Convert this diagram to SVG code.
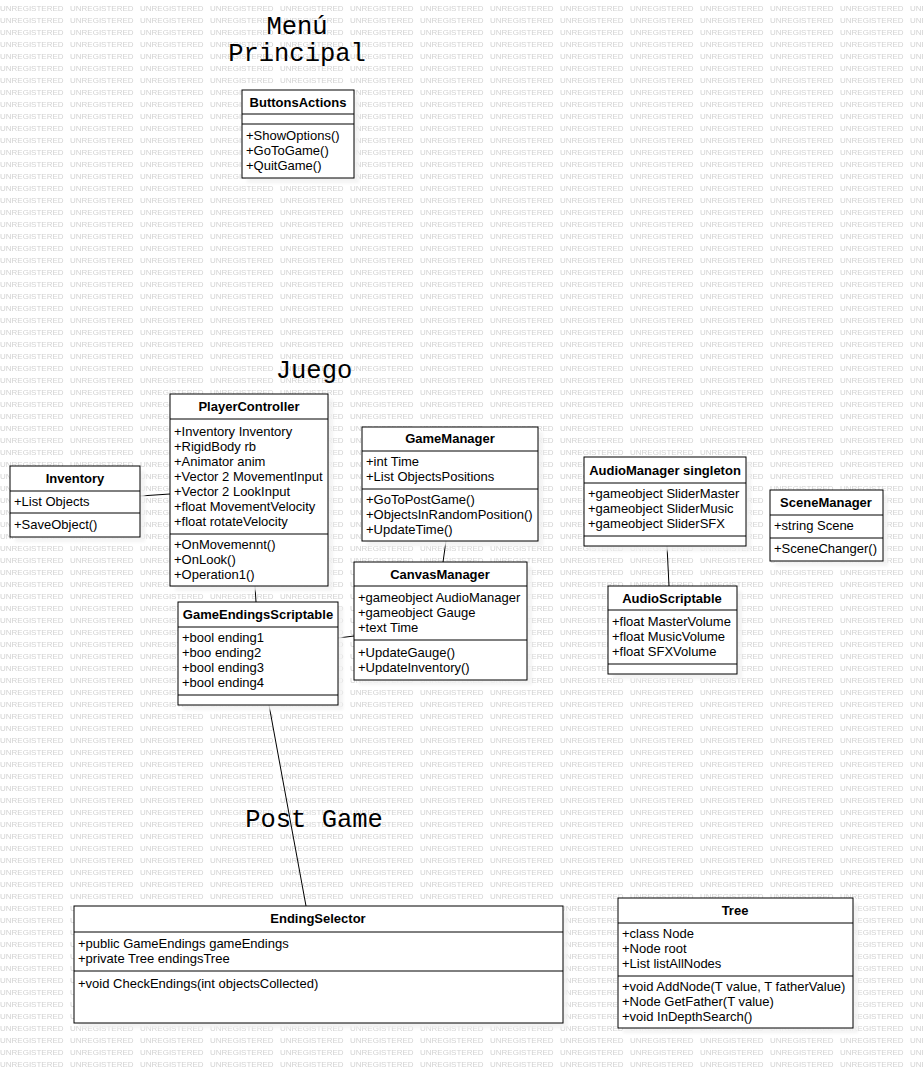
<svg xmlns="http://www.w3.org/2000/svg" width="923" height="1069" viewBox="0 0 923 1069">
<style>
.wm{font-family:"Liberation Sans",Arial,sans-serif;font-size:8px;fill:#d2d2d2}
.box{fill:#fff;stroke:#000;stroke-width:1}
.sh{fill:#f2f2f2;opacity:0.85;filter:url(#blur)}
.sep{stroke:#000;stroke-width:1}
.hd{font-family:"Liberation Sans",Arial,sans-serif;font-size:13px;font-weight:bold;fill:#000;text-anchor:middle}
.tx{font-family:"Liberation Sans",Arial,sans-serif;font-size:13px;fill:#000}
.title{font-family:"Liberation Mono","Courier New",monospace;font-size:25.5px;fill:#000;text-anchor:middle}
.conn line{stroke:#000;stroke-width:1}
</style>
<defs>
<pattern id="wmp" x="0" y="0" width="70" height="12" patternUnits="userSpaceOnUse">
<text class="wm" x="0" y="11">UNREGISTERED</text>
</pattern>
<filter id="blur" x="-10%" y="-10%" width="120%" height="120%"><feGaussianBlur stdDeviation="1.5"/></filter>
</defs>
<rect x="0" y="0" width="923" height="1069" fill="#fff"/>
<rect x="0" y="0" width="923" height="1069" fill="url(#wmp)"/>

<g id="titles">
<text class="title" x="297" y="34">Menú</text>
<text class="title" x="297" y="61">Principal</text>
<text class="title" x="314" y="378">Juego</text>
<text class="title" x="314" y="827">Post Game</text>
</g>

<g id="connectors" class="conn">
<line x1="140" y1="496" x2="170" y2="494"/>
<line x1="255" y1="586" x2="256" y2="602"/>
<line x1="446" y1="541" x2="443" y2="562"/>
<line x1="338" y1="638" x2="354" y2="636"/>
<line x1="269" y1="705" x2="306" y2="906"/>
<line x1="667" y1="546" x2="669" y2="586"/>
</g>

<g id="ButtonsActions">
<rect class="sh" x="247" y="95" width="112" height="88"/>
<rect class="box" x="242" y="90" width="112" height="88"/>
<line class="sep" x1="242" y1="114" x2="354" y2="114"/>
<line class="sep" x1="242" y1="124" x2="354" y2="124"/>
<text class="hd" x="298" y="107">ButtonsActions</text>
<text class="tx" x="246" y="140">+ShowOptions()</text>
<text class="tx" x="246" y="155">+GoToGame()</text>
<text class="tx" x="246" y="170">+QuitGame()</text>
</g>

<g id="PlayerController">
<rect class="sh" x="175" y="399" width="158" height="192"/>
<rect class="box" x="170" y="394" width="158" height="192"/>
<line class="sep" x1="170" y1="419" x2="328" y2="419"/>
<line class="sep" x1="170" y1="534" x2="328" y2="534"/>
<text class="hd" x="249" y="411">PlayerController</text>
<text class="tx" x="174" y="436">+Inventory Inventory</text>
<text class="tx" x="174" y="451">+RigidBody rb</text>
<text class="tx" x="174" y="466">+Animator anim</text>
<text class="tx" x="174" y="481">+Vector 2 MovementInput</text>
<text class="tx" x="174" y="496">+Vector 2 LookInput</text>
<text class="tx" x="174" y="511">+float MovementVelocity</text>
<text class="tx" x="174" y="526">+float rotateVelocity</text>
<text class="tx" x="174" y="549">+OnMovemennt()</text>
<text class="tx" x="174" y="564">+OnLook()</text>
<text class="tx" x="174" y="579">+Operation1()</text>
</g>

<g id="Inventory">
<rect class="sh" x="15" y="471" width="130" height="71"/>
<rect class="box" x="10" y="466" width="130" height="71"/>
<line class="sep" x1="10" y1="491" x2="140" y2="491"/>
<line class="sep" x1="10" y1="513" x2="140" y2="513"/>
<text class="hd" x="75" y="483">Inventory</text>
<text class="tx" x="14" y="506">+List Objects</text>
<text class="tx" x="14" y="529">+SaveObject()</text>
</g>

<g id="GameManager">
<rect class="sh" x="367" y="432" width="176" height="114"/>
<rect class="box" x="362" y="427" width="176" height="114"/>
<line class="sep" x1="362" y1="451" x2="538" y2="451"/>
<line class="sep" x1="362" y1="489" x2="538" y2="489"/>
<text class="hd" x="450" y="443">GameManager</text>
<text class="tx" x="366" y="466">+int Time</text>
<text class="tx" x="366" y="481">+List ObjectsPositions</text>
<text class="tx" x="366" y="504">+GoToPostGame()</text>
<text class="tx" x="366" y="519">+ObjectsInRandomPosition()</text>
<text class="tx" x="366" y="534">+UpdateTime()</text>
</g>

<g id="CanvasManager">
<rect class="sh" x="359" y="567" width="173" height="118"/>
<rect class="box" x="354" y="562" width="173" height="118"/>
<line class="sep" x1="354" y1="586" x2="527" y2="586"/>
<line class="sep" x1="354" y1="640" x2="527" y2="640"/>
<text class="hd" x="440" y="579">CanvasManager</text>
<text class="tx" x="358" y="602">+gameobject AudioManager</text>
<text class="tx" x="358" y="617">+gameobject Gauge</text>
<text class="tx" x="358" y="632">+text Time</text>
<text class="tx" x="358" y="657">+UpdateGauge()</text>
<text class="tx" x="358" y="672">+UpdateInventory()</text>
</g>

<g id="GameEndingsScriptable">
<rect class="sh" x="183" y="607" width="160" height="103"/>
<rect class="box" x="178" y="602" width="160" height="103"/>
<line class="sep" x1="178" y1="627" x2="338" y2="627"/>
<line class="sep" x1="178" y1="695" x2="338" y2="695"/>
<text class="hd" x="258" y="619">GameEndingsScriptable</text>
<text class="tx" x="182" y="642">+bool ending1</text>
<text class="tx" x="182" y="657">+boo ending2</text>
<text class="tx" x="182" y="672">+bool ending3</text>
<text class="tx" x="182" y="687">+bool ending4</text>
</g>

<g id="AudioManager">
<rect class="sh" x="589" y="462" width="162" height="89"/>
<rect class="box" x="584" y="457" width="162" height="89"/>
<line class="sep" x1="584" y1="483" x2="746" y2="483"/>
<line class="sep" x1="584" y1="536" x2="746" y2="536"/>
<text class="hd" x="665" y="475">AudioManager singleton</text>
<text class="tx" x="588" y="498">+gameobject SliderMaster</text>
<text class="tx" x="588" y="513">+gameobject SliderMusic</text>
<text class="tx" x="588" y="528">+gameobject SliderSFX</text>
</g>

<g id="SceneManager">
<rect class="sh" x="775" y="495" width="113" height="71"/>
<rect class="box" x="770" y="490" width="113" height="71"/>
<line class="sep" x1="770" y1="515" x2="883" y2="515"/>
<line class="sep" x1="770" y1="538" x2="883" y2="538"/>
<text class="hd" x="826" y="507">SceneManager</text>
<text class="tx" x="774" y="530">+string Scene</text>
<text class="tx" x="774" y="553">+SceneChanger()</text>
</g>

<g id="AudioScriptable">
<rect class="sh" x="613" y="591" width="129" height="88"/>
<rect class="box" x="608" y="586" width="129" height="88"/>
<line class="sep" x1="608" y1="610" x2="737" y2="610"/>
<line class="sep" x1="608" y1="664" x2="737" y2="664"/>
<text class="hd" x="672" y="603">AudioScriptable</text>
<text class="tx" x="612" y="626">+float MasterVolume</text>
<text class="tx" x="612" y="641">+float MusicVolume</text>
<text class="tx" x="612" y="656">+float SFXVolume</text>
</g>

<g id="EndingSelector">
<rect class="sh" x="79" y="911" width="489" height="117"/>
<rect class="box" x="74" y="906" width="489" height="117"/>
<line class="sep" x1="74" y1="932" x2="563" y2="932"/>
<line class="sep" x1="74" y1="971" x2="563" y2="971"/>
<text class="hd" x="318" y="923">EndingSelector</text>
<text class="tx" x="78" y="948">+public GameEndings gameEndings</text>
<text class="tx" x="78" y="963">+private Tree endingsTree</text>
<text class="tx" x="78" y="988">+void CheckEndings(int objectsCollected)</text>
</g>

<g id="Tree">
<rect class="sh" x="623" y="903" width="235" height="130"/>
<rect class="box" x="618" y="898" width="235" height="130"/>
<line class="sep" x1="618" y1="923" x2="853" y2="923"/>
<line class="sep" x1="618" y1="976" x2="853" y2="976"/>
<text class="hd" x="735" y="915">Tree</text>
<text class="tx" x="622" y="938">+class Node</text>
<text class="tx" x="622" y="953">+Node root</text>
<text class="tx" x="622" y="968">+List listAllNodes</text>
<text class="tx" x="622" y="991">+void AddNode(T value, T fatherValue)</text>
<text class="tx" x="622" y="1006">+Node GetFather(T value)</text>
<text class="tx" x="622" y="1021">+void InDepthSearch()</text>
</g>
</svg>
